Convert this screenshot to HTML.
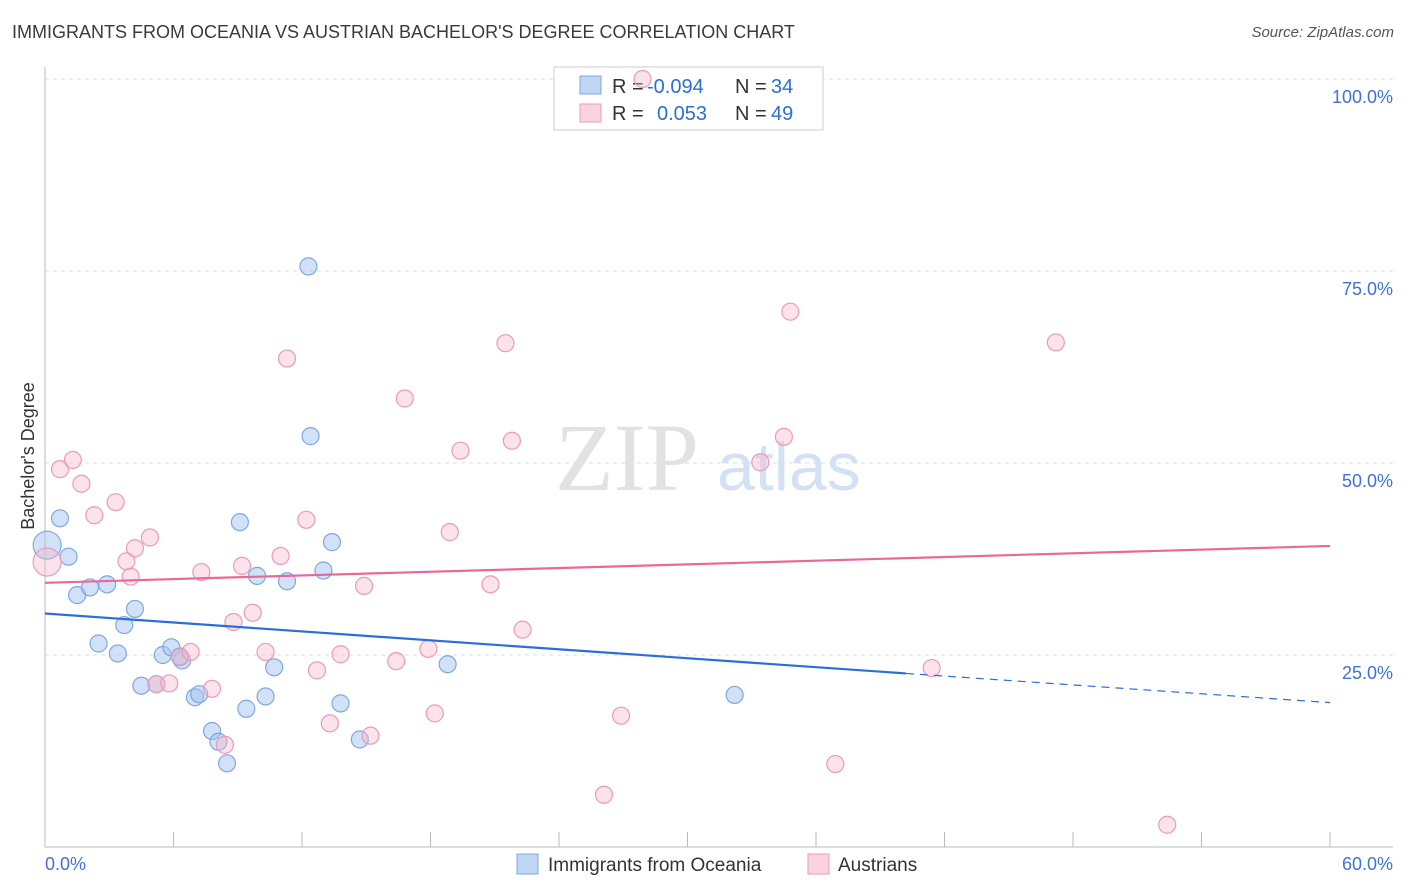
<!DOCTYPE html>
<html><head><meta charset="utf-8">
<style>
body{margin:0;background:#fff;font-family:"Liberation Sans",sans-serif;}
#wrap{position:relative;width:1406px;height:892px;overflow:hidden;}
.t{position:absolute;white-space:nowrap;}
</style></head>
<body>
<div id="wrap">
<div class="t" style="left:12px;top:22px;font-size:18px;color:#3a3a3a;">IMMIGRANTS FROM OCEANIA VS AUSTRIAN BACHELOR'S DEGREE CORRELATION CHART</div>
<div class="t" style="right:12px;top:24px;font-size:15px;color:#555;font-style:italic;">Source: ZipAtlas.com</div>
<svg id="svg" width="1406" height="892" style="position:absolute;left:0;top:0"></svg>
</div>
<script>
const xTicks=[0,60];
const yTicks=[25,50,75,100];
const blueX=[0.1,0.7,1.1,1.5,2.1,2.9,2.5,3.4,3.7,4.2,4.5,5.2,5.5,5.9,6.4,6.3,7.0,7.2,7.8,8.1,8.5,9.1,9.4,9.9,10.3,10.7,11.3,12.3,12.4,13.0,13.4,13.8,14.7,18.8,32.2];
const blueY=[39.3,42.8,37.8,32.8,33.8,34.2,26.5,25.2,28.9,31.0,21.0,21.2,25.0,26.0,24.3,24.8,19.5,19.9,15.1,13.7,10.9,42.3,18.0,35.3,19.6,23.4,34.6,75.6,53.5,36.0,39.7,18.7,14.0,23.8,19.8];
const pinkX=[0.1,0.7,1.3,1.7,2.3,3.3,3.8,4.0,4.2,4.9,5.2,5.8,6.3,6.8,7.3,7.8,8.4,8.8,9.2,9.7,10.3,11.0,11.3,12.2,12.7,13.3,13.8,14.9,15.2,16.4,16.8,17.9,18.2,18.9,19.4,20.8,21.5,21.8,22.3,26.1,26.9,27.9,33.4,34.5,34.8,36.9,41.4,47.2,52.4];
const pinkY=[37.1,49.2,50.4,47.3,43.2,44.9,37.2,35.2,38.9,40.3,21.2,21.3,24.7,25.4,35.8,20.6,13.3,29.3,36.6,30.5,25.4,37.9,63.6,42.6,23.0,16.1,25.1,34.0,14.5,24.2,58.4,25.8,17.4,41.0,51.6,34.2,65.6,52.9,28.3,6.8,17.1,100,50.1,53.4,69.7,10.8,23.3,65.7,2.9];
const blueTrend=[30.4,22.6,18.8];
const pinkTrend=[34.4,39.2];
const NS='http://www.w3.org/2000/svg';
const svg=document.getElementById('svg');
const X0=45,X1=1330,Y0=847,Y100=79;
const sx=v=>X0+(X1-X0)*v/60;
const sy=v=>Y0-(Y0-Y100)*v/100;
function mk(tag,attrs,parent){const e=document.createElementNS(NS,tag);for(const k in attrs)e.setAttribute(k,attrs[k]);(parent||svg).appendChild(e);return e;}
yTicks.forEach(t=>{
 const l=mk('line',{x1:45,x2:1393,y1:sy(t),y2:sy(t),stroke:'#dcdcdc','stroke-dasharray':'4,4'});
 
 
 const tx=mk('text',{x:1393,y:sy(t)+24,'text-anchor':'end','font-size':18,fill:'#3f72d6','font-family':'Liberation Sans'});
 tx.textContent=t.toFixed(1)+'%';
 
 
});
mk('line',{x1:45,x2:45,y1:67,y2:847,stroke:'#bbb'});
mk('line',{x1:45,x2:1393,y1:847,y2:847,stroke:'#bbb'});
for(let i=0;i<=10;i++){const x=sx(i*6);const l=mk('line',{x1:x,x2:x,y1:832,y2:847,stroke:'#bbb'});
 
 }
xTicks.forEach(t=>{const tx=mk('text',{x:t==0?45:1393,y:870,'text-anchor':t==0?'start':'end','font-size':18,fill:'#3f72d6','font-family':'Liberation Sans'});
 tx.textContent=t.toFixed(1)+'%';
 
 });
const wm=mk('text',{x:555,y:490,'font-size':96,fill:'#e2e2e2','font-family':'Liberation Serif'});wm.textContent='ZIP';


const wm2=mk('text',{x:717,y:490,'font-size':68,fill:'#d3e1f5','font-family':'Liberation Sans'});wm2.textContent='atlas';


const yt=mk('text',{transform:'translate(34,456) rotate(-90)','text-anchor':'middle','font-size':18,fill:'#333','font-family':'Liberation Sans'});yt.textContent="Bachelor's Degree";


// legend box (drawn before points)
const g=mk('g',{});


mk('rect',{x:554,y:67,width:269,height:63,fill:'#fff',stroke:'#ccc'},g);
mk('rect',{x:580,y:76,width:21,height:18,fill:'rgba(164,196,240,0.7)',stroke:'#7fa8e0'},g);
mk('rect',{x:580,y:104,width:21,height:18,fill:'rgba(248,182,202,0.6)',stroke:'#e99bb6'},g);
function tt(x,y,s,c){const t=mk('text',{x:x,y:y,'font-size':20,fill:c,'font-family':'Liberation Sans'},g);t.textContent=s;}
tt(612,93,'R =','#333');tt(647,93,'-0.094','#2a6fd6');tt(735,93,'N =','#333');tt(771,93,'34','#2a6fd6');
tt(612,120,'R =','#333');tt(657,120,'0.053','#2a6fd6');tt(735,120,'N =','#333');tt(771,120,'49','#2a6fd6');
function pts(xs,ys,fill,stroke,name){xs.forEach((v,i)=>{const c=mk('circle',{cx:sx(v),cy:sy(ys[i]),r:i==0?14:8.5,fill:fill,stroke:stroke,'stroke-width':1.2});
 
 });}
pts(blueX,blueY,'rgba(164,196,240,0.5)','#7fa8e0','point-oceania');
pts(pinkX,pinkY,'rgba(248,182,202,0.4)','#e99bb6','point-austrians');
const bl=mk('line',{x1:sx(0),y1:sy(blueTrend[0]),x2:sx(40.2),y2:sy(blueTrend[1]),stroke:'#2a6fd6','stroke-width':2.2});


const bd=mk('line',{x1:sx(40.2),y1:sy(blueTrend[1]),x2:sx(60),y2:sy(blueTrend[2]),stroke:'#2a6fd6','stroke-width':1.2,'stroke-dasharray':'8,6'});


const pl=mk('line',{x1:sx(0),y1:sy(pinkTrend[0]),x2:sx(60),y2:sy(pinkTrend[1]),stroke:'#e8689a','stroke-width':2.2});


mk('rect',{x:517,y:854,width:21,height:20,fill:'rgba(164,196,240,0.7)',stroke:'#7fa8e0'});
mk('rect',{x:808,y:854,width:21,height:20,fill:'rgba(248,182,202,0.6)',stroke:'#e99bb6'});
const l1=mk('text',{x:548,y:871,'font-size':19,fill:'#333','font-family':'Liberation Sans'});l1.textContent='Immigrants from Oceania';


const l2=mk('text',{x:838,y:871,'font-size':19,fill:'#333','font-family':'Liberation Sans'});l2.textContent='Austrians';


</script>
</body></html>
